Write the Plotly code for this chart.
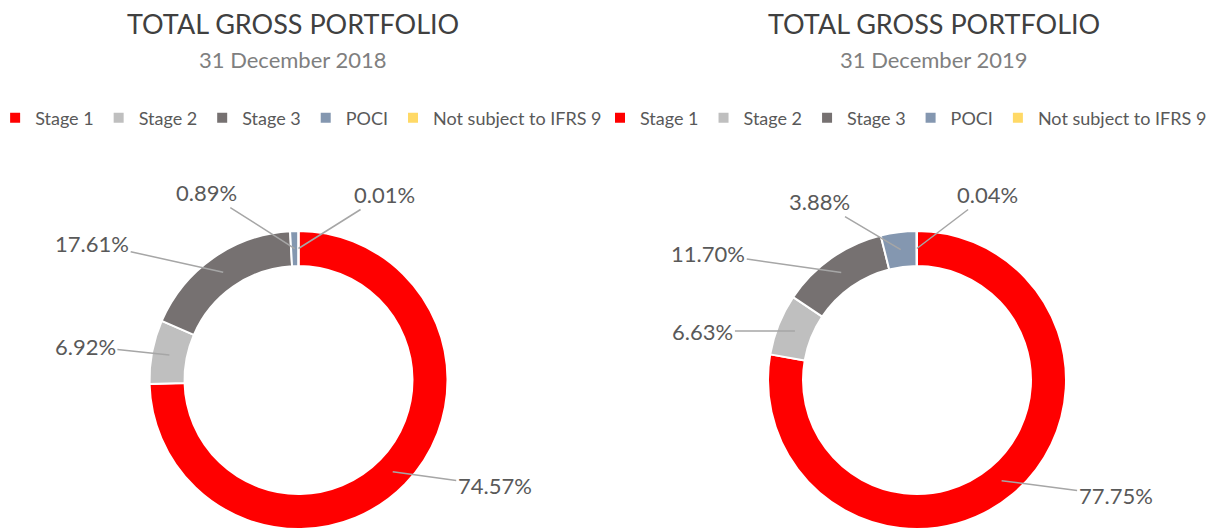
import plotly.graph_objects as go
import math

W, H = 1218, 529

categories = ["Stage 1", "Stage 2", "Stage 3", "POCI", "Not subject to IFRS 9"]
values_2018 = [74.57, 6.92, 17.61, 0.89, 0.01]
values_2019 = [77.75, 6.63, 11.70, 3.88, 0.04]
labels_2018 = ["74.57%", "6.92%", "17.61%", "0.89%", "0.01%"]
labels_2019 = ["77.75%", "6.63%", "11.70%", "3.88%", "0.04%"]
titles = ["TOTAL GROSS PORTFOLIO", "TOTAL GROSS PORTFOLIO"]
subtitles = ["31 December 2018", "31 December 2019"]

colors = ["#FF0000", "#BFBFBF", "#767171", "#8497B0", "#FFD966"]
FONT = "Lato"

# label offsets (px) from the slice mid-point to the label centre
offsets_2018 = [(102, 14), (-84, -9), (-131, -29), (-88, -56), (86, -54)]
offsets_2019 = [(114, 15), (-92, 0), (-133, -19), (-81, -48), (71, -54)]

hole = 0.765
SIZE = 298  # donut domain size in px
domains = [
    dict(x=[(298.5 - SIZE / 2) / W, (298.5 + SIZE / 2) / W], y=[0, SIZE / H]),
    dict(x=[(917 - SIZE / 2) / W, (917 + SIZE / 2) / W], y=[0, SIZE / H]),
]

fig = go.Figure()
annotations = []

# pie legends merge identical labels, so the second chart gets an invisible suffix
charts = [
    (values_2018, labels_2018, offsets_2018, "legend", ""),
    (values_2019, labels_2019, offsets_2019, "legend2", "\u200b"),
]

for i, (vals, labs, offs, leg, suffix) in enumerate(charts):
    dom = domains[i]
    fig.add_trace(go.Pie(
        labels=[c + suffix for c in categories],
        values=vals,
        hole=hole,
        sort=False,
        direction="clockwise",
        rotation=0,
        textinfo="none",
        marker=dict(colors=colors, line=dict(color="white", width=2)),
        domain=dom,
        legend=leg,
        showlegend=True,
    ))

    # geometry of the donut, to hook the leader lines on each slice
    cx = (dom["x"][0] + dom["x"][1]) / 2 * W
    cy = (dom["y"][0] + dom["y"][1]) / 2 * H  # from bottom
    r_out = min((dom["x"][1] - dom["x"][0]) * W, (dom["y"][1] - dom["y"][0]) * H) / 2
    r_mid = r_out * (1 + hole) / 2
    total = sum(vals)
    cum = 0
    for v, lab, (dx, dy) in zip(vals, labs, offs):
        mid = (cum + v / 2) / total
        cum += v
        ang = 2 * math.pi * mid
        px = cx + r_mid * math.sin(ang)
        py = cy + r_mid * math.cos(ang)
        annotations.append(dict(
            x=px / W, y=py / H, xref="paper", yref="paper",
            text=lab, showarrow=True, arrowhead=0, arrowwidth=1.5,
            arrowcolor="#A6A6A6", ax=dx, ay=dy, standoff=0,
            font=dict(family=FONT, size=22, color="#595959"),
        ))

# titles
title_x = [293 / W, 934 / W]
for tx, t, s in zip(title_x, titles, subtitles):
    annotations.append(dict(x=tx, y=1 - 24 / H, xref="paper", yref="paper",
                            xanchor="center", yanchor="middle",
                            text=t, showarrow=False,
                            font=dict(family=FONT, size=27, color="#404040")))
    annotations.append(dict(x=tx, y=1 - 60 / H, xref="paper", yref="paper",
                            xanchor="center", yanchor="middle",
                            text=s, showarrow=False,
                            font=dict(family=FONT, size=22, color="#7F7F7F")))

legend_style = dict(orientation="h", yanchor="middle", y=1 - 118 / H,
                    xanchor="left", itemwidth=30,
                    font=dict(family=FONT, size=18, color="#595959"),
                    bgcolor="rgba(0,0,0,0)", traceorder="normal")

fig.update_layout(
    width=W, height=H,
    margin=dict(l=0, r=0, t=0, b=0, autoexpand=False),
    paper_bgcolor="white",
    plot_bgcolor="white",
    font=dict(family=FONT),
    legend=dict(x=-0.004, **legend_style),
    legend2=dict(x=600 / W, **legend_style),
    annotations=annotations,
)

# drop the page's default body margin so the figure sits at the window origin
fig.write_html("out.html", config={"displayModeBar": False},
               post_script="document.body.style.margin='0';")
